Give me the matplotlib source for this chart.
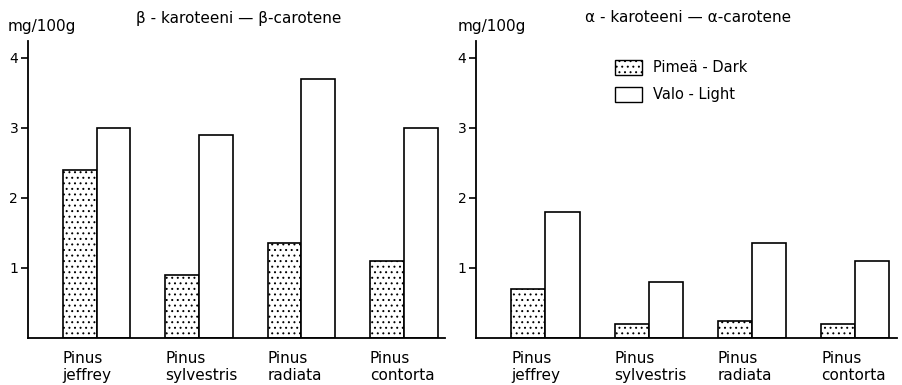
import numpy as np
import matplotlib.pyplot as plt
from matplotlib.patches import Patch

# species (x tick labels)
species = ["Pinus\njeffrey", "Pinus\nsylvestris", "Pinus\nradiata", "Pinus\ncontorta"]

# beta-carotene, mg/100g
beta_dark = [2.4, 0.9, 1.35, 1.1]
beta_light = [3.0, 2.9, 3.7, 3.0]

# alpha-carotene, mg/100g
alpha_dark = [0.7, 0.2, 0.25, 0.2]
alpha_light = [1.8, 0.8, 1.35, 1.1]

titles = ["β - karoteeni — β-carotene", "α - karoteeni — α-carotene"]

plt.rcParams['hatch.linewidth'] = 0.7
plt.rcParams['font.family'] = 'DejaVu Sans'

fig = plt.figure(figsize=(9.02, 3.85), dpi=100)
axes = [fig.add_axes([0.031, 0.122, 0.462, 0.772]),
        fig.add_axes([0.528, 0.122, 0.466, 0.772])]

# title / unit positions in figure pixels
title_x = [239, 688]
unit_x = [8, 458]

x = np.arange(len(species))
w = 0.33
for i, (ax, dark, light) in enumerate(zip(axes, [beta_dark, alpha_dark], [beta_light, alpha_light])):
    ax.bar(x - w / 2, dark, w, facecolor='white', edgecolor='black', hatch='...', linewidth=1.2)
    ax.bar(x + w / 2, light, w, facecolor='white', edgecolor='black', linewidth=1.2)
    ax.set_xlim(-0.67, 3.4)
    ax.set_ylim(0, 4.24)
    ax.set_yticks([1, 2, 3, 4])
    # labels start at the left edge of the dark bar
    ax.set_xticks(x - w)
    ax.set_xticklabels(species, ha='left', fontsize=11, linespacing=1.2)
    ax.tick_params(axis='x', length=0, pad=9)
    ax.tick_params(axis='y', length=5, width=1.2, labelsize=10, pad=2)
    for s in ['top', 'right']:
        ax.spines[s].set_visible(False)
    for s in ['left', 'bottom']:
        ax.spines[s].set_linewidth(1.3)
    fig.text(unit_x[i] / 902, 1 - 27 / 385, "mg/100g", fontsize=11, ha='left', va='center')
    fig.text(title_x[i] / 902, 1 - 18 / 385, titles[i], fontsize=11, ha='center', va='center')

handles = [Patch(facecolor='white', edgecolor='black', hatch='...', label='Pimeä - Dark'),
           Patch(facecolor='white', edgecolor='black', label='Valo - Light')]
axes[1].legend(handles=handles, loc='upper left', bbox_to_anchor=(0.30, 0.98),
               frameon=False, fontsize=10.5, handlelength=1.8, handleheight=1.2,
               labelspacing=0.8)

fig.savefig("out.png", dpi=100)
